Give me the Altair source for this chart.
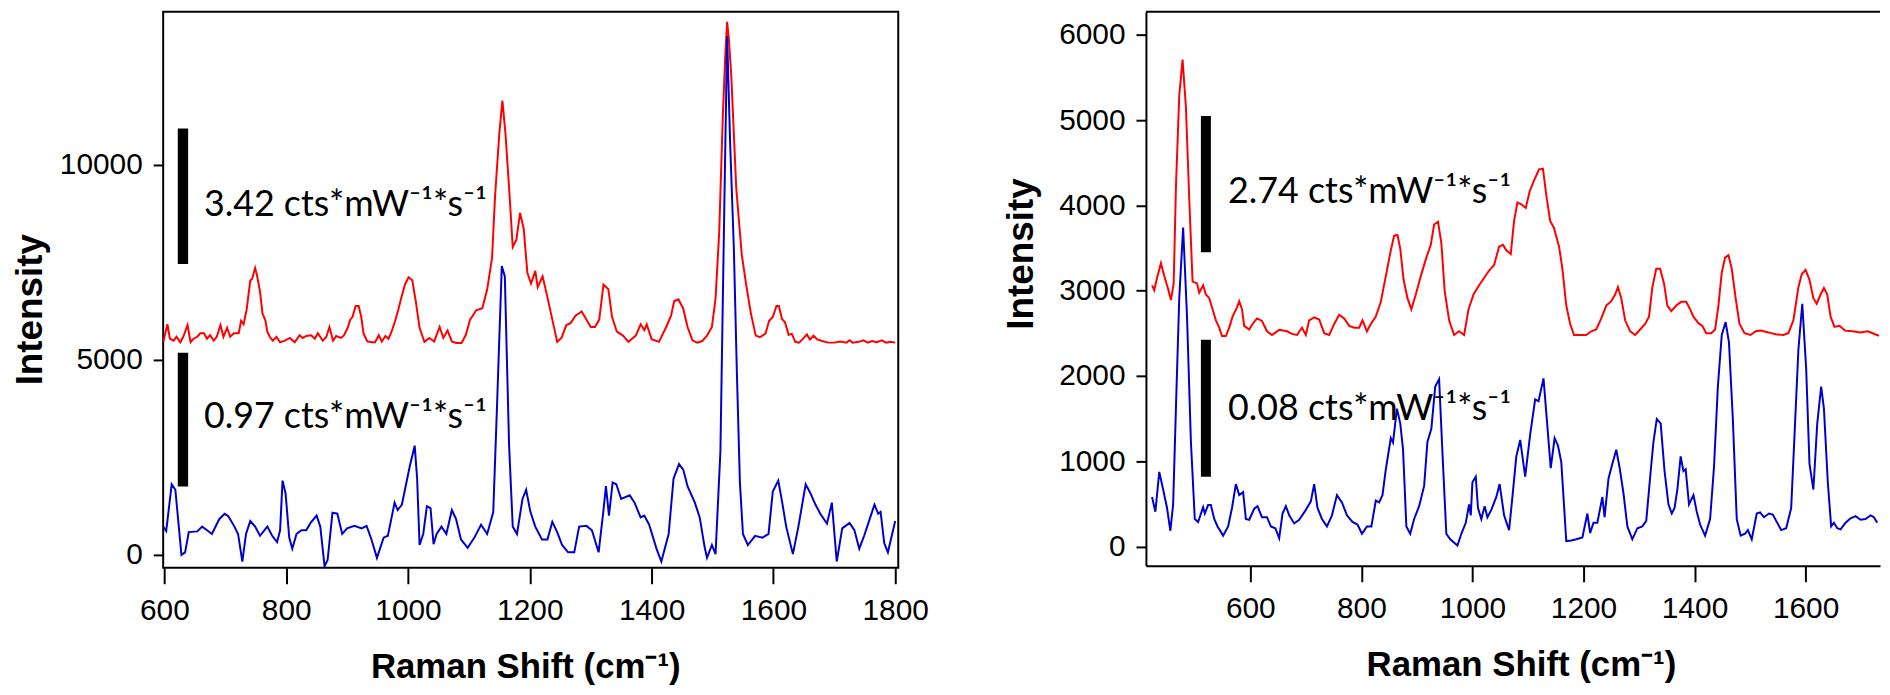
import altair as alt
import pandas as pd

# ---------------- Left panel data ----------------
left_red_x = [598,605,609,615,620,626,631,638,643,648,654,659,665,670,675,681,686,692,697,703,708,714,722,726,730,735,741,744,749,752,757,761,766,769,773,778,784,790,798,806,814,822,827,833,841,847,852,860,866,871,877,882,890,895,901,905,909,914,919,923,927,933,941,946,952,957,963,968,973,979,984,990,995,1001,1007,1013,1019,1027,1035,1043,1052,1058,1065,1072,1079,1088,1095,1102,1112,1122,1130,1138,1143,1150,1155,1160,1166,1172,1178,1184,1190,1196,1202,1209,1213,1221,1229,1237,1245,1252,1260,1267,1275,1280,1285,1292,1300,1307,1314,1321,1329,1335,1343,1353,1362,1368,1374,1382,1388,1392,1400,1412,1424,1432,1437,1444,1452,1459,1467,1475,1483,1491,1499,1505,1511,1517,1521,1524,1527,1531,1535,1539,1548,1555,1563,1571,1578,1587,1593,1599,1605,1609,1614,1619,1625,1630,1636,1642,1648,1655,1660,1666,1672,1680,1690,1700,1710,1720,1725,1730,1740,1748,1755,1762,1770,1778,1785,1792,1800]
left_red_y = [5450,5910,5540,5490,5590,5450,5590,5890,5450,5540,5590,5680,5680,5540,5630,5490,5590,5890,5590,5820,5590,5680,5680,6000,5910,6280,7030,7070,7350,7170,6750,6190,6000,5720,5590,5490,5590,5450,5490,5560,5450,5630,5560,5610,5630,5540,5680,5490,5590,5840,5490,5610,5560,5630,5820,6020,6100,6380,6380,6120,5680,5470,5450,5450,5630,5470,5610,5540,5720,6000,6280,6650,6930,7115,7040,6480,5820,5460,5560,5470,5840,5560,5750,5470,5430,5430,5640,6030,6270,6320,6800,7610,9210,10810,11640,10810,9400,7890,8080,8765,8360,7230,6950,7280,6860,7140,6600,6030,5460,5560,5890,5940,6130,6180,6240,6060,5840,5840,6030,6930,6810,6100,5720,5620,5460,5540,5620,5910,5760,5910,5530,5460,5840,6130,6500,6550,6310,5840,5500,5440,5480,5620,5840,6570,8265,11280,12800,13660,13200,12225,10800,9400,7700,6950,6190,5620,5580,5670,6000,6100,6380,6380,6050,5960,5640,5670,5460,5440,5530,5650,5520,5620,5520,5480,5440,5440,5470,5440,5500,5440,5460,5500,5440,5480,5450,5500,5440,5460,5440]

left_blue_x = [598,603,612,618,628,634,640,654,662,670,678,690,699,705,715,721,728,734,741,749,757,769,777,785,790,794,799,805,810,817,825,833,840,850,856,863,868,876,884,892,900,912,924,932,940,949,960,967,978,983,990,1003,1011,1015,1019,1025,1031,1037,1042,1047,1055,1063,1072,1079,1087,1098,1109,1120,1130,1140,1146,1154,1159,1166,1172,1179,1188,1194,1201,1209,1220,1229,1237,1245,1253,1263,1273,1281,1293,1302,1313,1321,1325,1330,1336,1342,1350,1364,1372,1382,1388,1396,1408,1416,1428,1436,1445,1452,1459,1471,1479,1487,1491,1499,1505,1513,1519,1524,1529,1535,1540,1545,1550,1558,1570,1582,1592,1599,1608,1614,1621,1632,1641,1653,1661,1669,1677,1688,1696,1704,1713,1725,1733,1741,1749,1757,1766,1772,1776,1782,1788,1800]
left_blue_y = [725,613,1810,1670,0,66,585,603,725,630,537,915,1056,990,725,537,-170,537,867,725,490,725,490,330,630,1904,1574,443,160,537,630,630,820,1008,725,-290,-130,1084,1056,537,679,744,679,744,396,-75,443,490,1338,1150,1291,2280,2800,1951,254,537,1244,1197,273,537,725,537,1150,915,396,180,443,773,537,1100,3740,7400,7135,2800,725,537,1433,1670,1103,725,396,396,848,584,254,66,66,725,744,632,66,1150,1762,1008,1857,1810,1433,1527,1338,961,1008,773,160,-170,537,1951,2328,2186,1762,1338,961,207,-75,254,20,2658,8550,13300,10530,7890,4685,1857,537,254,490,443,537,1621,1904,1386,725,20,725,1810,1574,1291,1056,801,1338,-170,679,820,632,160,490,867,1291,1056,1103,302,66,867]

# ---------------- Right panel data ----------------
right_red_x = [423,427,432,439,445,452,457,462,466,472,478,484,490,496,504,508,515,520,526,532,538,544,549,556,562,568,576,580,585,589,598,604,612,621,630,639,652,666,675,684,693,700,706,715,724,733,742,751,760,769,778,787,796,802,810,817,826,835,844,853,859,865,870,876,883,890,898,907,917,925,931,938,944,950,958,967,976,985,993,1002,1012,1021,1030,1039,1048,1055,1061,1069,1075,1081,1088,1096,1103,1111,1120,1127,1133,1140,1147,1156,1162,1169,1176,1183,1192,1205,1214,1223,1232,1241,1250,1257,1262,1268,1275,1284,1293,1302,1311,1318,1324,1331,1338,1345,1351,1358,1367,1376,1385,1392,1398,1407,1414,1421,1430,1437,1443,1449,1455,1461,1467,1474,1481,1490,1501,1510,1519,1533,1546,1560,1569,1578,1587,1593,1600,1607,1614,1620,1627,1633,1639,1645,1652,1661,1671,1685,1698,1712,1725,1732]
right_red_y = [3063,3007,3149,3322,3171,3020,2890,3085,4206,5285,5708,5155,4077,3106,3085,2977,3063,2955,2912,2783,2653,2567,2468,2468,2567,2696,2804,2877,2783,2588,2545,2610,2675,2645,2524,2481,2541,2524,2494,2481,2567,2481,2653,2688,2662,2502,2481,2610,2718,2675,2588,2567,2567,2653,2524,2610,2696,2869,3171,3473,3645,3654,3494,3128,2912,2783,2955,3171,3387,3538,3775,3809,3559,2998,2653,2481,2524,2481,2783,2955,3063,3149,3236,3300,3516,3538,3473,3430,3818,4034,4012,3969,4163,4292,4422,4431,4120,3818,3732,3516,3257,2826,2610,2481,2481,2481,2524,2545,2675,2826,2877,2955,3041,2912,2653,2524,2481,2545,2610,2696,3041,3257,3257,3085,2826,2761,2826,2869,2869,2783,2696,2619,2588,2502,2502,2545,2826,3214,3387,3417,3257,2912,2610,2502,2481,2524,2532,2511,2489,2481,2502,2653,3041,3193,3244,3128,2912,2847,2955,3033,2955,2696,2576,2588,2532,2524,2511,2524,2489,2472]

right_blue_x = [423,429,436,443,450,456,461,466,472,479,486,493,500,506,515,518,524,529,535,541,551,560,567,574,580,587,592,598,607,613,621,630,637,645,652,658,664,670,679,688,700,709,715,721,729,738,747,756,765,774,784,793,801,810,818,826,832,838,844,853,857,864,870,875,881,888,895,904,913,919,926,933,940,946,953,960,973,980,988,994,997,1000,1006,1010,1016,1022,1027,1034,1043,1049,1057,1066,1072,1079,1086,1095,1104,1113,1119,1128,1134,1141,1148,1154,1160,1169,1178,1187,1198,1207,1212,1218,1225,1234,1238,1245,1252,1259,1265,1272,1279,1288,1297,1306,1313,1321,1326,1332,1339,1346,1353,1359,1364,1369,1375,1380,1384,1390,1398,1404,1410,1419,1428,1435,1442,1449,1456,1462,1469,1476,1483,1491,1496,1503,1512,1518,1525,1534,1541,1547,1556,1565,1574,1581,1587,1594,1601,1607,1614,1621,1628,1633,1640,1646,1651,1657,1663,1672,1681,1690,1699,1708,1717,1723,1729]
right_blue_y = [582,410,876,669,453,186,496,1618,2912,3740,2696,1230,324,289,462,388,487,487,324,237,129,237,453,733,604,638,324,315,444,474,345,345,237,216,99,388,474,367,272,315,431,531,733,453,324,237,367,604,518,367,289,259,151,237,237,539,518,604,906,1273,1221,1618,1445,1143,237,151,324,474,712,1230,1380,1877,1963,1100,151,86,13,151,280,496,367,755,820,453,324,474,345,431,582,733,367,194,582,1057,1251,820,1316,1726,1704,1972,1488,919,1273,1186,992,65,73,86,108,388,160,280,280,582,345,797,971,1135,928,626,237,86,216,237,302,884,1229,1497,1445,884,496,388,453,669,1057,884,906,496,604,410,259,129,323,927,1877,2481,2632,2394,1488,323,129,151,194,86,388,401,345,388,375,302,194,216,453,1445,2308,2847,2092,971,669,1445,1877,1618,755,237,280,216,203,280,332,358,315,323,367,345,280]

# ---------------- Annotations (scale bars and labels) ----------------
left_bar_x = [622, 622]
left_bar_x2 = [639, 639]
left_bar_y = [7455, 1750]
left_bar_y2 = [10930, 5180]
left_label_x = [665, 665]
left_label_y = [8972, 3530]
left_labels = ["3.42 cts*mW\u207b\u00b9*s\u207b\u00b9", "0.97 cts*mW\u207b\u00b9*s\u207b\u00b9"]

right_bar_x = [511, 511]
right_bar_x2 = [529, 529]
right_bar_y = [3451, 820]
right_bar_y2 = [5047, 2424]
right_label_x = [560, 560]
right_label_y = [4153, 1617]
right_labels = ["2.74 cts*mW\u207b\u00b9*s\u207b\u00b9", "0.08 cts*mW\u207b\u00b9*s\u207b\u00b9"]

left_xticks = [600, 800, 1000, 1200, 1400, 1600, 1800]
left_yticks = [0, 5000, 10000]
right_xticks = [600, 800, 1000, 1200, 1400, 1600]
right_yticks = [0, 1000, 2000, 3000, 4000, 5000, 6000]

RED = "#ff0000"
BLUE = "#0000cc"
TICK_FONT = "Liberation Sans"
TEXT_FONT = "Lato"


def series_df(rx, ry, bx, by):
    a = pd.DataFrame({"shift": rx, "intensity": ry, "series": "red"})
    b = pd.DataFrame({"shift": bx, "intensity": by, "series": "blue"})
    return pd.concat([a, b], ignore_index=True)


def panel(df, xdom, ydom, xticks, yticks, width, height,
          bx, bx2, by, by2, lx, ly, labels, title_y, title_x, title_pad, boxed):
    xaxis = alt.Axis(values=xticks, format="d", grid=False, domain=not boxed, domainColor="black",
                     domainWidth=2, tickSize=16, tickWidth=2, tickColor="black",
                     labelFont=TICK_FONT, labelFontSize=30, labelColor="black", labelPadding=12,
                     labelFlush=False, labelOverlap=False,
                     title="Raman Shift (cm\u207b\u00b9)", titleFont=TICK_FONT, titleFontSize=35,
                     titleFontWeight="bold", titleColor="black", titlePadding=24, titleX=title_x)
    yaxis = alt.Axis(values=yticks, format="d", grid=False, domain=not boxed, domainColor="black",
                     domainWidth=2, tickSize=10, tickWidth=2, tickColor="black",
                     labelFont=TICK_FONT, labelFontSize=30, labelColor="black", labelPadding=11,
                     labelOverlap=False, labelFlush=False,
                     title="Intensity", titleFont=TICK_FONT, titleFontSize=37,
                     titleFontWeight="bold", titleColor="black", titlePadding=title_pad,
                     titleY=title_y)
    xs = alt.Scale(domain=xdom, nice=False, zero=False)
    ys = alt.Scale(domain=ydom, nice=False, zero=False)

    lines = alt.Chart(df).mark_line(strokeWidth=2, clip=True).encode(
        x=alt.X("shift:Q", scale=xs, axis=xaxis),
        y=alt.Y("intensity:Q", scale=ys, axis=yaxis),
        color=alt.Color("series:N", scale=alt.Scale(domain=["red", "blue"], range=[RED, BLUE]), legend=None),
        detail="series:N",
    )
    bars_df = pd.DataFrame({"x": bx, "x2": bx2, "y": by, "y2": by2})
    bars = alt.Chart(bars_df).mark_rect(color="black").encode(
        x=alt.X("x:Q", scale=xs), x2="x2:Q", y=alt.Y("y:Q", scale=ys), y2="y2:Q"
    )
    lab_df = pd.DataFrame({"x": lx, "y": ly, "t": labels})
    texts = alt.Chart(lab_df).mark_text(align="left", baseline="middle", font=TEXT_FONT,
                                        fontSize=36, color="black").encode(
        x=alt.X("x:Q", scale=xs), y=alt.Y("y:Q", scale=ys), text="t:N"
    )
    layers = [lines, bars, texts]
    if not boxed:
        top = alt.Chart(pd.DataFrame({"a": [0]})).mark_rule(color="black", strokeWidth=2).encode(
            x=alt.value(0), x2=alt.value(width), y=alt.value(0)
        )
        layers.append(top)
    ch = alt.layer(*layers).properties(width=width, height=height)
    if boxed:
        ch = ch.properties(view=alt.ViewBackground(stroke="black", strokeWidth=2))
    else:
        ch = ch.properties(view=alt.ViewBackground(stroke="transparent"))
    return ch


left = panel(series_df(left_red_x, left_red_y, left_blue_x, left_blue_y),
             [598, 1805], [-331, 13918], left_xticks, left_yticks, 739, 559,
             left_bar_x, left_bar_x2, left_bar_y, left_bar_y2,
             left_label_x, left_label_y, left_labels, 299, 364, 10, True)
right = panel(series_df(right_red_x, right_red_y, right_blue_x, right_blue_y),
              [412, 1734], [-225, 6269], right_xticks, right_yticks, 738, 557,
              right_bar_x, right_bar_x2, right_bar_y, right_bar_y2,
              right_label_x, right_label_y, right_labels, 243, 377, 18, False)

chart = alt.hconcat(left, right, spacing=249, bounds="flush").properties(
    padding={"left": 2, "right": 0, "top": 0, "bottom": 0}
).configure(background="white").configure_view(strokeWidth=2)

chart.save("out.html", embed_options={"renderer": "svg", "actions": False})
